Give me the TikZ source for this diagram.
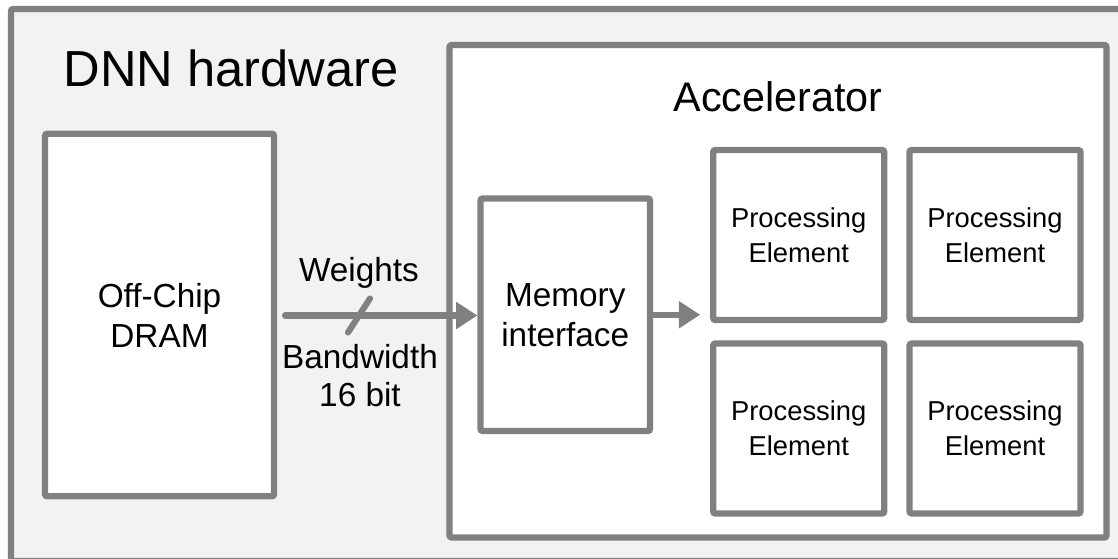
\documentclass[tikz,border=0pt]{standalone}
\usepackage{fontspec}
\setmainfont{Liberation Sans}
\usetikzlibrary{arrows.meta,calc}
\definecolor{edgegray}{HTML}{808080}
\definecolor{panelgray}{HTML}{F2F2F2}
\begin{document}
\begin{tikzpicture}[x=0.75pt,y=-0.75pt,
  box/.style={draw=edgegray,line width=4.6pt,fill=white,rounded corners=1.5pt,
              inner sep=0pt,align=center,font=\fontsize{25}{30}\selectfont},
  pebox/.style={box,minimum width=128.25pt,minimum height=127.5pt,
                font=\fontsize{20.5}{26.5}\selectfont},
  flow/.style={draw=edgegray,line width=4.6pt,line cap=round,
               -{Triangle[length=16pt,width=19.5pt]}},
  lbl/.style={align=center,font=\fontsize{25}{28.5}\selectfont}]
  \useasboundingbox (0,0) rectangle (1118,559);
  \clip (0,0) rectangle (1118,559);

  % enclosing hardware panel
  \draw[draw=edgegray,line width=4.6pt,fill=panelgray,rounded corners=1.5pt]
    (11,9) rectangle (1126,561);
  \node[font=\fontsize{38}{44}\selectfont] (title) at (231,68) {DNN hardware};

  % accelerator block
  \node[box,minimum width=492.75pt,minimum height=369.4pt] (acc) at (778,291.25) {};
  \node[font=\fontsize{31}{36}\selectfont] (acctitle) at (778,97) {Accelerator};

  % off-chip memory and memory interface
  \node[box,minimum width=171.75pt,minimum height=271.9pt] (dram) at (159.5,315) {Off-Chip\\DRAM};
  \node[box,minimum width=127.1pt,minimum height=174.4pt] (mem) at (565.25,314.75) {Memory\\interface};

  % processing element array
  \node[pebox] (pe1) at (798.75,235) {Processing\\Element};
  \node[pebox] (pe2) at (995,235) {Processing\\Element};
  \node[pebox] (pe3) at (798.75,428.5) {Processing\\Element};
  \node[pebox] (pe4) at (995,428.5) {Processing\\Element};

  % data paths
  \coordinate (src) at ($(dram.east)+(8,0.5)$);
  \coordinate (dst) at ($(mem.west)+(0,0.75)$);
  \draw[flow] (src) -- (dst);
  \coordinate (pein) at ($(pe1.west |- mem.east)+(-10,0)$);
  \draw[flow] (mem.east) -- (pein);

  % bus width tick
  \coordinate (tick) at (359,315.5);
  \draw[draw=edgegray,line width=4.6pt,line cap=round]
    ($(tick)+(-11,17)$) -- ($(tick)+(11,-17)$);
  \node[lbl] (wlbl) at (359,273) {Weights};
  \node[lbl] (bwlbl) at (360,376) {Bandwidth\\16 bit};
\end{tikzpicture}
\end{document}
